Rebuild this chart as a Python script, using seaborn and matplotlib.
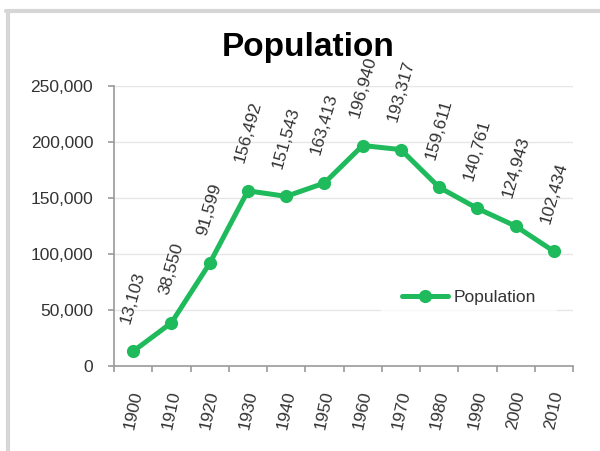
import matplotlib
matplotlib.use("Agg")
import matplotlib.pyplot as plt
from matplotlib.lines import Line2D
from matplotlib.ticker import FuncFormatter, MultipleLocator, FixedLocator
import seaborn as sns
import pandas as pd

# Census population by decade
years = ["1900", "1910", "1920", "1930", "1940", "1950",
         "1960", "1970", "1980", "1990", "2000", "2010"]
population = [13103, 38550, 91599, 156492, 151543, 163413,
              196940, 193317, 159611, 140761, 124943, 102434]

green = "#1fba5c"
text_col = "#333333"
axis_col = "#9a9a9a"

sns.set_theme(style="white")
plt.rcParams["font.family"] = ["Liberation Sans", "DejaVu Sans"]

df = pd.DataFrame({"Year": years, "Population": population})

fig = plt.figure(figsize=(6.0, 4.51), dpi=100)
ax = fig.add_axes([0.19, 0.1885, 0.765, 0.6205])

sns.lineplot(data=df, x="Year", y="Population", ax=ax, color=green,
             linewidth=3.6, marker="o", markersize=9.5, markeredgewidth=0,
             label="Population", sort=False)

ax.set_xlim(-0.5, len(years) - 0.5)
ax.set_ylim(0, 250000)
ax.yaxis.set_major_locator(MultipleLocator(50000))
ax.yaxis.set_major_formatter(FuncFormatter(lambda v, p: f"{int(v):,}"))
ax.grid(axis="y", color="#e6e6e6", linewidth=1.0)
ax.set_axisbelow(True)
ax.set_xlabel("")
ax.set_ylabel("")

# spines: only left and bottom, gray
for side in ("top", "right"):
    ax.spines[side].set_visible(False)
for side in ("left", "bottom"):
    ax.spines[side].set_color(axis_col)
    ax.spines[side].set_linewidth(1.2)

# category boundary ticks on the x axis
ax.xaxis.set_minor_locator(FixedLocator([i - 0.5 for i in range(len(years) + 1)]))
ax.tick_params(axis="x", which="minor", bottom=True, length=4, width=1.2, color=axis_col)
ax.tick_params(axis="x", which="major", length=0, pad=17, labelsize=12.5,
               labelcolor=text_col)
ax.tick_params(axis="y", left=True, length=4, width=1.2, color=axis_col, pad=11,
               labelsize=12.5, labelcolor=text_col)
for lab in ax.get_xticklabels():
    lab.set_rotation(78)
    lab.set_ha("center")
    lab.set_va("top")

# value labels above each point
for i, v in enumerate(population):
    ax.annotate(f"{v:,}", xy=(i, v), xytext=(0, 19), textcoords="offset points",
                rotation=74, ha="center", va="bottom", fontsize=12.5,
                color=text_col, annotation_clip=False)

leg = ax.legend(loc="center", bbox_to_anchor=(0.773, 0.246), frameon=True,
                fontsize=12.5, handlelength=2.7, handletextpad=0.3,
                borderpad=1.2, borderaxespad=0)
leg.get_frame().set_facecolor("white")
leg.get_frame().set_edgecolor("none")
for t in leg.get_texts():
    t.set_color(text_col)

fig.text(0.513, 0.895, "Population", ha="center", va="center",
         fontsize=24, fontweight="bold", color="black")

# outer chart frame (left and top edges)
frame_col = "#d6d6d6"
fig.add_artist(Line2D([8 / 600, 8 / 600], [0, 1 - 11 / 451], transform=fig.transFigure,
                      color=frame_col, linewidth=3))
fig.add_artist(Line2D([6 / 600, 1], [1 - 11 / 451, 1 - 11 / 451], transform=fig.transFigure,
                      color=frame_col, linewidth=3))

fig.savefig("out.png", dpi=100)
